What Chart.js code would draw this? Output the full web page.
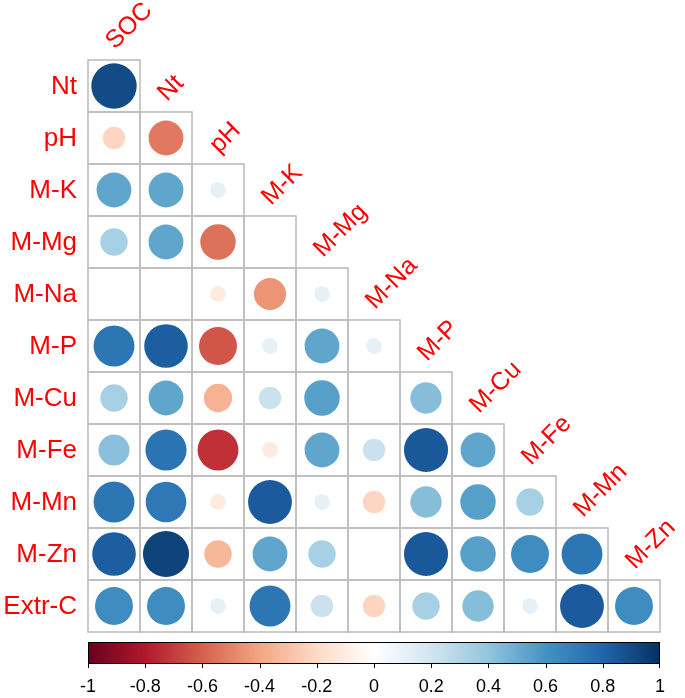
<!DOCTYPE html>
<html>
<head>
<meta charset="utf-8">
<script src="https://cdn.jsdelivr.net/npm/chart.js@4.4.1/dist/chart.umd.min.js"></script>
<style>
  html, body { margin: 0; padding: 0; background: #fff; }
  canvas { display: block; }
</style>
</head>
<body>
<canvas id="corr" width="685" height="698"></canvas>
<script>
(function () {
  "use strict";

  // ---- data --------------------------------------------------------------
  var COLS = ["SOC", "Nt", "pH", "M-K", "M-Mg", "M-Na", "M-P", "M-Cu", "M-Fe", "M-Mn", "M-Zn"];
  var ROWS = ["Nt", "pH", "M-K", "M-Mg", "M-Na", "M-P", "M-Cu", "M-Fe", "M-Mn", "M-Zn", "Extr-C"];

  // lower triangle, one array per row (left to right)
  var R_NT    = [0.90];
  var R_PH    = [-0.22, -0.53];
  var R_MK    = [0.53, 0.53, 0.11];
  var R_MMG   = [0.33, 0.53, -0.55, 0.01];
  var R_MNA   = [0.01, 0.01, -0.11, -0.45, 0.11];
  var R_MP    = [0.73, 0.83, -0.63, 0.11, 0.53, 0.11];
  var R_MCU   = [0.33, 0.53, -0.35, 0.22, 0.55, 0.01, 0.43];
  var R_MFE   = [0.42, 0.74, -0.73, -0.11, 0.53, 0.22, 0.85, 0.53];
  var R_MMN   = [0.73, 0.72, -0.11, 0.84, 0.11, -0.22, 0.43, 0.55, 0.33];
  var R_MZN   = [0.83, 0.93, -0.33, 0.53, 0.33, 0.01, 0.85, 0.55, 0.63, 0.73];
  var R_EXTRC = [0.63, 0.63, 0.11, 0.73, 0.22, -0.22, 0.33, 0.43, 0.11, 0.84, 0.63];
  var MATRIX = [R_NT, R_PH, R_MK, R_MMG, R_MNA, R_MP, R_MCU, R_MFE, R_MMN, R_MZN, R_EXTRC];

  var CB_TICKS = [-1, -0.8, -0.6, -0.4, -0.2, 0, 0.2, 0.4, 0.6, 0.8, 1];
  var CB_LABELS = ["-1", "-0.8", "-0.6", "-0.4", "-0.2", "0", "0.2", "0.4", "0.6", "0.8", "1"];

  // corrplot RdBu ramp, stops at -1, -0.8, ... 1
  var RDBU = ["#67001F", "#B2182B", "#D6604D", "#F4A582", "#FDDBC7", "#FFFFFF",
              "#D1E5F0", "#92C5DE", "#4393C3", "#2166AC", "#053061"];

  var LABEL_RED = "#FF0000";
  var GRID = "#BEBEBE";
  var FONT = '"Liberation Sans", Arial, sans-serif';

  // ---- helpers -----------------------------------------------------------
  function hex(h) {
    return [parseInt(h.substr(1, 2), 16), parseInt(h.substr(3, 2), 16), parseInt(h.substr(5, 2), 16)];
  }

  function colorFor(v) {
    var p = (Math.max(-1, Math.min(1, v)) + 1) / 2 * (RDBU.length - 1);
    var i = Math.min(Math.floor(p), RDBU.length - 2);
    var t = p - i;
    var a = hex(RDBU[i]), b = hex(RDBU[i + 1]);
    var c = [0, 1, 2].map(function (k) { return Math.round(a[k] + (b[k] - a[k]) * t); });
    return "rgb(" + c.join(",") + ")";
  }

  function cellSize(chart) {
    var xs = chart.scales.x;
    return Math.abs(xs.getPixelForValue(1) - xs.getPixelForValue(0));
  }

  var points = [];
  MATRIX.forEach(function (row, r) {
    row.forEach(function (v, c) {
      points.push({ x: c, y: r, v: v });
    });
  });

  // ---- grid boxes (under the circles) -----------------------------------
  var gridPlugin = {
    id: "gridBoxes",
    beforeDatasetsDraw: function (chart) {
      var ctx = chart.ctx, xs = chart.scales.x, ys = chart.scales.y;
      ctx.save();
      ctx.strokeStyle = GRID;
      ctx.lineWidth = 1.6;
      MATRIX.forEach(function (row, r) {
        row.forEach(function (v, c) {
          var x0 = xs.getPixelForValue(c - 0.5), x1 = xs.getPixelForValue(c + 0.5);
          var y0 = ys.getPixelForValue(r - 0.5), y1 = ys.getPixelForValue(r + 0.5);
          ctx.strokeRect(x0, y0, x1 - x0, y1 - y0);
        });
      });
      ctx.restore();
    }
  };

  // ---- labels + colour bar ----------------------------------------------
  var labelPlugin = {
    id: "labels",
    afterDraw: function (chart) {
      var ctx = chart.ctx, xs = chart.scales.x, ys = chart.scales.y, cb = chart.scales.cb;
      var area = chart.chartArea;
      ctx.save();
      ctx.fillStyle = LABEL_RED;
      ctx.font = "26px " + FONT;

      // row labels
      ctx.textAlign = "right";
      ctx.textBaseline = "middle";
      ROWS.forEach(function (name, r) {
        ctx.fillText(name, area.left - 11, ys.getPixelForValue(r) + 1);
      });

      // column labels, rotated 45 degrees above the diagonal
      ctx.font = "25px " + FONT;
      ctx.textAlign = "left";
      ctx.textBaseline = "alphabetic";
      COLS.forEach(function (name, c) {
        var x = xs.getPixelForValue(c) + 1;
        var y = ys.getPixelForValue(c - 0.5) - 10;
        ctx.save();
        ctx.translate(x, y);
        ctx.rotate(-Math.PI / 4);
        ctx.fillText(name, 0, 0);
        ctx.restore();
      });

      // colour bar
      var top = area.bottom + 10, h = 21;
      var left = cb.getPixelForValue(-1), right = cb.getPixelForValue(1);
      var grad = ctx.createLinearGradient(left, 0, right, 0);
      RDBU.forEach(function (col, i) {
        grad.addColorStop((cb.getPixelForValue(CB_TICKS[i]) - left) / (right - left), col);
      });
      ctx.fillStyle = grad;
      ctx.fillRect(left, top, right - left, h);
      ctx.strokeStyle = "#000";
      ctx.lineWidth = 1;
      ctx.strokeRect(left + 0.5, top + 0.5, right - left - 1, h);

      ctx.beginPath();
      CB_TICKS.forEach(function (t) {
        var px = Math.round(cb.getPixelForValue(t)) + 0.5;
        px = Math.min(Math.max(px, left + 0.5), right - 0.5);
        ctx.moveTo(px, top + h);
        ctx.lineTo(px, top + h + 5);
      });
      ctx.stroke();

      ctx.fillStyle = "#000";
      ctx.font = "18px " + FONT;
      ctx.textAlign = "center";
      ctx.textBaseline = "middle";
      CB_TICKS.forEach(function (t, i) {
        ctx.fillText(CB_LABELS[i], cb.getPixelForValue(t), top + h + 24);
      });
      ctx.restore();
    }
  };

  // ---- chart -------------------------------------------------------------
  var canvas = document.getElementById("corr");
  new Chart(canvas.getContext("2d"), {
    type: "scatter",
    data: {
      datasets: [{
        data: points,
        showLine: false,
        pointBackgroundColor: function (c) { return c.raw ? colorFor(c.raw.v) : "#fff"; },
        pointRadius: function (c) {
          if (!c.raw) return 0;
          return 0.46 * Math.sqrt(Math.abs(c.raw.v)) * cellSize(c.chart);
        },
        pointBorderWidth: 0,
        pointHoverRadius: 0,
        clip: false
      }]
    },
    options: {
      responsive: false,
      animation: false,
      events: [],
      layout: { padding: { left: 88, right: 25, top: 60, bottom: 66 } },
      plugins: {
        legend: { display: false },
        tooltip: { enabled: false }
      },
      scales: {
        x: { type: "linear", min: -0.5, max: 10.5, display: false },
        y: { type: "linear", min: -0.5, max: 10.5, reverse: true, display: false },
        cb: { type: "linear", axis: "x", position: "bottom", min: -1, max: 1, display: false }
      }
    },
    plugins: [gridPlugin, labelPlugin]
  });
})();
</script>
</body>
</html>
